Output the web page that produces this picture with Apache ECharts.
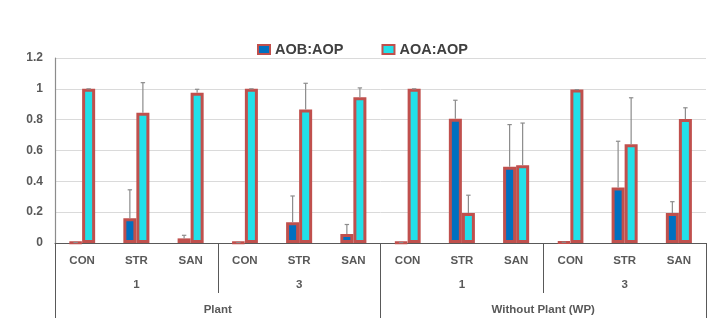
<!DOCTYPE html>
<html>
<head>
<meta charset="utf-8">
<script src="https://cdn.jsdelivr.net/npm/echarts@6/dist/echarts.min.js"></script>
<style>
  html, body { margin: 0; padding: 0; background: #fff; }
  #chart { width: 713px; height: 321px; }
</style>
</head>
<body>
<div id="chart"></div>
<script>
// Treatments within each block, then duration, then plant condition
const treatments = ['CON', 'STR', 'SAN', 'CON', 'STR', 'SAN', 'CON', 'STR', 'SAN', 'CON', 'STR', 'SAN'];
const durations = ['1', '3', '1', '3'];
const conditions = ['Plant', 'Without Plant (WP)'];

// Ratios and their upper error amounts
const aobAop = [0.003, 0.16, 0.03, 0.003, 0.135, 0.058, 0.003, 0.806, 0.494, 0.005, 0.36, 0.195];
const aobErr = [0, 0.185, 0.02, 0, 0.17, 0.062, 0, 0.12, 0.274, 0, 0.30, 0.073];
const aoaAop = [1, 0.845, 0.975, 1, 0.866, 0.946, 1, 0.194, 0.505, 0.995, 0.64, 0.804];
const aoaErr = [0, 0.195, 0.022, 0, 0.17, 0.06, 0, 0.116, 0.273, 0, 0.302, 0.073];

const yTicks = { min: 0, max: 1.2, interval: 0.2 };

const FONT = 'Liberation Sans';
const BAR_W = 0.24;          // fraction of a category band
const BORDER = '#c0504d';
const ERR_COLOR = '#8c8c8c';
const AXIS_TEXT = '#595959';

function errorSeries(values, errs, side) {
  return {
    type: 'custom',
    xAxisIndex: 0,
    yAxisIndex: 0,
    z: 5,
    silent: true,
    encode: { x: 0, y: [1, 2] },
    data: values.map((v, i) => [i, v, v + errs[i]]),
    renderItem: function (params, api) {
      const band = api.size([1, 0])[0];
      const off = side * band * BAR_W / 2;
      const base = api.coord([api.value(0), api.value(1)]);
      const top = api.coord([api.value(0), api.value(2)]);
      const x = base[0] + off;
      const cap = 2.2;
      return {
        type: 'group',
        children: [
          { type: 'line', shape: { x1: x, y1: base[1], x2: x, y2: top[1] },
            style: { stroke: ERR_COLOR, lineWidth: 1.2 } },
          { type: 'line', shape: { x1: x - cap, y1: top[1], x2: x + cap, y2: top[1] },
            style: { stroke: ERR_COLOR, lineWidth: 1.2 } }
        ]
      };
    }
  };
}

const labelStyle = { color: AXIS_TEXT, fontFamily: FONT, fontWeight: 'bold', fontSize: 11.5 };

const chart = echarts.init(document.getElementById('chart'));
chart.setOption({
  animation: false,
  backgroundColor: '#fff',
  grid: { left: 55, right: 7, top: 58, bottom: 78, containLabel: false },
  legend: {
    data: ['AOB:AOP', 'AOA:AOP'],
    left: 252,
    top: 37,
    itemWidth: 12,
    itemHeight: 9,
    itemGap: 38,
    icon: 'rect',
    textStyle: { color: '#404040', fontFamily: FONT, fontWeight: 'bold', fontSize: 14.5 }
  },
  xAxis: [
    {
      type: 'category',
      data: treatments,
      position: 'bottom',
      axisLine: { show: true, lineStyle: { color: '#595959', width: 1 } },
      axisTick: { show: false },
      axisLabel: Object.assign({ interval: 0, margin: 12 }, labelStyle),
      splitLine: { show: false }
    },
    {
      type: 'category',
      data: durations,
      position: 'bottom',
      gridIndex: 0,
      axisLine: { show: false },
      axisTick: { show: true, interval: 0, length: 50, lineStyle: { color: '#595959', width: 1 } },
      axisLabel: Object.assign({ interval: 0, margin: 36 }, labelStyle),
      splitLine: { show: false }
    },
    {
      type: 'category',
      data: conditions,
      position: 'bottom',
      gridIndex: 0,
      axisLine: { show: false },
      axisTick: { show: true, interval: 0, length: 75, lineStyle: { color: '#595959', width: 1 } },
      axisLabel: Object.assign({ interval: 0, margin: 61 }, labelStyle),
      splitLine: { show: false }
    }
  ],
  yAxis: {
    type: 'value',
    min: yTicks.min,
    max: yTicks.max,
    interval: yTicks.interval,
    axisLine: { show: true, lineStyle: { color: '#8c8c8c', width: 1.2 } },
    axisTick: { show: false },
    axisLabel: { color: AXIS_TEXT, fontFamily: FONT, fontWeight: 'bold', fontSize: 12, margin: 12 },
    splitLine: { show: true, lineStyle: { color: '#dadada', width: 1 } }
  },
  series: [
    {
      name: 'AOB:AOP',
      type: 'bar',
      xAxisIndex: 0,
      data: aobAop,
      barWidth: (BAR_W * 100) + '%',
      barGap: '0%',
      itemStyle: { color: '#0070c0', borderColor: BORDER, borderWidth: 3 }
    },
    {
      name: 'AOA:AOP',
      type: 'bar',
      xAxisIndex: 0,
      data: aoaAop,
      barWidth: (BAR_W * 100) + '%',
      barGap: '0%',
      itemStyle: { color: '#22e0e9', borderColor: BORDER, borderWidth: 3 }
    },
    errorSeries(aobAop, aobErr, -1),
    errorSeries(aoaAop, aoaErr, 1)
  ]
});
</script>
</body>
</html>
